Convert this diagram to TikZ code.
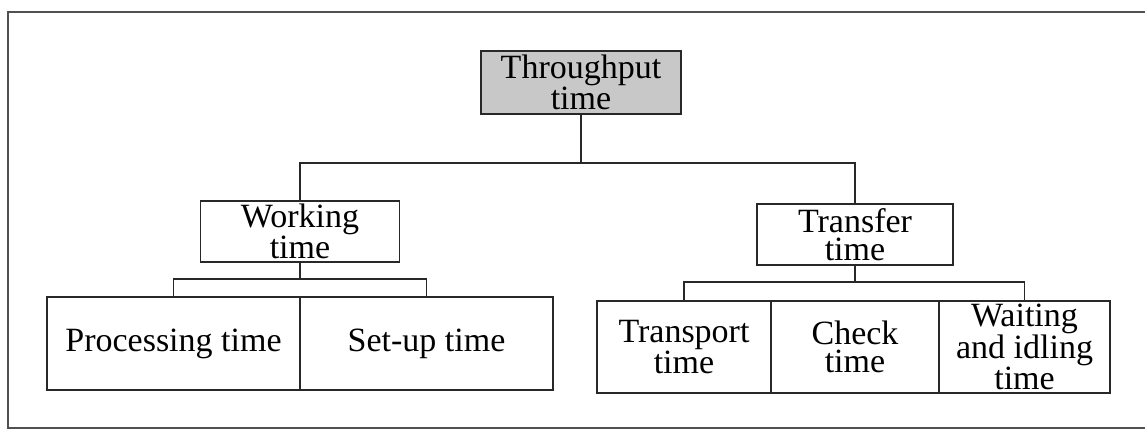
\documentclass[tikz,border=0pt]{standalone}
\usepackage{fontspec}
\setmainfont{Liberation Serif}
\definecolor{boxgray}{RGB}{200,200,200}
\definecolor{inkc}{RGB}{40,40,40}
\definecolor{framec}{RGB}{80,80,80}
\begin{document}
\begin{tikzpicture}[x=1pt,y=-1pt,
  boxn/.style={draw=inkc,line width=1.6pt,rectangle,inner sep=0pt,align=center,
    font=\fontsize{34}{28}\selectfont},
  conn/.style={draw=inkc,line width=1.4pt},
  framel/.style={draw=framec,line width=1.8pt}]
\useasboundingbox (0,0) rectangle (1145,432);
\draw[framel] (1145,12) -- (8,12) -- (8,428) -- (1145,428);
\node[boxn,fill=boxgray,minimum width=200pt,minimum height=63pt] (top) at (581,82.5) {Throughput\\time};
\node[boxn,minimum width=199pt,minimum height=61pt] (work) at (300,231.5) {Working\\time};
\node[boxn,minimum width=196pt,minimum height=61pt] (trans) at (855,234.5) {Transfer\\time};
\node[boxn,minimum width=253pt,minimum height=93pt] (proc) at (173.5,343.5) {Processing time};
\node[boxn,minimum width=253pt,minimum height=93pt] (setup) at (426.5,343.5) {Set-up time};
\node[boxn,minimum width=174pt,minimum height=92pt] (transp) at (684,347) {Transport\\time};
\node[boxn,minimum width=168pt,minimum height=92pt] (check) at (855,347) {Check\\time};
\node[boxn,minimum width=171pt,minimum height=92pt] (wait) at (1024.5,347) {Waiting\\and idling\\time};
\draw[conn] (top.south) -- ++(0,48) coordinate (tbus) -| (work.north);
\draw[conn] (tbus) -| (trans.north);
\draw[conn] (work.south) -- ++(0,16) coordinate (wbus);
\draw[conn] (proc.north) |- (wbus) -| (setup.north);
\draw[conn] (trans.south) -- ++(0,16) coordinate (rbus);
\draw[conn] (transp.north) |- (rbus) -| (wait.north);
\end{tikzpicture}
\end{document}
